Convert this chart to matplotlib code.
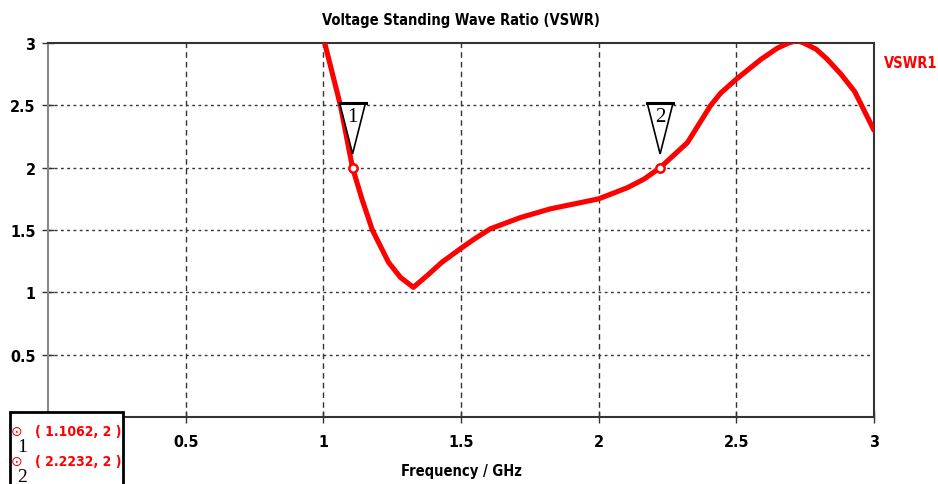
import numpy as np
import matplotlib.pyplot as plt
from matplotlib import font_manager as fm
from matplotlib.patches import Polygon, Rectangle

# VSWR curve
freq = [1.005, 1.062, 1.106, 1.14, 1.178, 1.237, 1.28, 1.327, 1.38, 1.43,
        1.498, 1.55, 1.607, 1.716, 1.825, 1.935, 2.0, 2.105, 2.1662, 2.2232,
        2.322, 2.407, 2.444, 2.5, 2.59, 2.65, 2.69, 2.72, 2.745, 2.79, 2.83,
        2.88, 2.93, 3.0]
vswr = [3.0, 2.5, 2.0, 1.75, 1.5, 1.24, 1.12, 1.04, 1.14, 1.24,
        1.35, 1.43, 1.51, 1.60, 1.67, 1.72, 1.75, 1.84, 1.91, 2.0,
        2.2, 2.5, 2.6, 2.71, 2.87, 2.96, 3.0, 3.02, 3.0, 2.95, 2.87,
        2.75, 2.61, 2.30]

marker_ids = ['1', '2']
marker_x = [1.1062, 2.2232]
marker_y = [2, 2]

xticks = [0, 0.5, 1, 1.5, 2, 2.5, 3]
yticks = [0, 0.5, 1, 1.5, 2, 2.5, 3]


def weight_num(w):
    if isinstance(w, (int, float)):
        return w
    return {'bold': 700, 'semibold': 600, 'demibold': 600, 'heavy': 800,
            'black': 900, 'extra bold': 800}.get(str(w).lower(), 400)


def pick_narrow_bold():
    # look for a narrow bold face among the installed fonts
    pref = {'extra-condensed': 0, 'condensed': 40, 'semi-condensed': 80}
    best = None
    for f in fm.fontManager.ttflist:
        if f.style != 'normal' or f.stretch not in pref:
            continue
        w = weight_num(f.weight)
        if w < 600:
            continue
        score = abs(w - 700) + pref[f.stretch]
        if best is None or score < best[0]:
            best = (score, f.fname)
    if best:
        return dict(fname=best[1])
    return dict(family=['Lato', 'DejaVu Sans'], weight='bold')


narrow = pick_narrow_bold()


def fp(size):
    return fm.FontProperties(size=size, **narrow)


serif = dict(fontfamily=['Liberation Serif', 'DejaVu Serif'], fontweight='normal')

fig = plt.figure(figsize=(9.38, 4.85), dpi=100)
ax = fig.add_axes([48 / 938, 67 / 485, 826 / 938, 374 / 485])

ax.plot(freq, vswr, color='#ff0000', lw=3.7, solid_capstyle='round',
        solid_joinstyle='round', zorder=3)
ax.set_xlim(0, 3)
ax.set_ylim(0, 3)
ax.set_xticks(xticks)
ax.set_yticks(yticks)
# the 0 labels sit under the marker table in the reference
ax.set_xticklabels(['' if t == 0 else f'{t:g}' for t in xticks], fontproperties=fp(11.5))
ax.set_yticklabels(['' if t == 0 else f'{t:g}' for t in yticks], fontproperties=fp(11.5))

# grid: dotted horizontals, dashed verticals
for t in yticks[1:-1]:
    ax.axhline(t, color='#333333', lw=1, ls=(0, (2, 2.5)), zorder=1)
for t in xticks[1:-1]:
    ax.axvline(t, color='#333333', lw=1, ls=(0, (4, 3)), zorder=1)

for s in ['top', 'bottom', 'right']:
    ax.spines[s].set_color('#333333')
    ax.spines[s].set_linewidth(1.5)
ax.spines['left'].set_color('#888888')
ax.spines['left'].set_linewidth(1.5)
ax.tick_params(direction='inout', length=8, width=1, colors='#333333', labelcolor='black')
ax.tick_params(axis='x', pad=8)
ax.tick_params(axis='y', pad=5)

ax.set_title('Voltage Standing Wave Ratio (VSWR)', fontproperties=fp(10.5), pad=14)
ax.set_xlabel('Frequency / GHz', fontproperties=fp(10.5), labelpad=10)

fig.text(911 / 938, 1 - 64 / 485, 'VSWR1', color='#ff0000', fontproperties=fp(10.5),
         ha='center', va='center')

# marker flags
for mid, mx, my in zip(marker_ids, marker_x, marker_y):
    ax.plot([mx], [my], marker='o', ms=6, mfc='white', mec='#ff0000', mew=1.8, zorder=5)
    tri = Polygon([[mx - 0.047, my + 0.52], [mx + 0.047, my + 0.52], [mx, my + 0.11]],
                  closed=True, fc='white', ec='black', lw=1.2, zorder=4)
    ax.add_patch(tri)
    ax.plot([mx - 0.047, mx + 0.047], [my + 0.52, my + 0.52], color='black', lw=2.2, zorder=4)
    ax.text(mx, my + 0.41, mid, ha='center', va='center', fontsize=15, zorder=6, **serif)

# marker table box, bottom left
box = Rectangle((10 / 938, -0.05), 113 / 938, 1 - 413 / 485 + 0.05,
                transform=fig.transFigure, fc='white', ec='black', lw=2, zorder=10)
fig.patches.append(box)
for i, (mid, mx, my) in enumerate(zip(marker_ids, marker_x, marker_y)):
    yc = 1 - (432 + i * 30) / 485
    fig.text(17 / 938, yc, '\u2299', color='#ff0000', fontsize=10, ha='center',
             va='center', fontfamily=['DejaVu Sans'], zorder=11)
    fig.text(22 / 938, yc - 16 / 485, mid, color='black', fontsize=14, ha='center',
             va='center', zorder=11, **serif)
    fig.text(35 / 938, yc, f'( {mx:.4f}, {my} )', color='#ff0000', fontproperties=fp(10),
             ha='left', va='center', zorder=11)

fig.savefig('out.png', dpi=100)
